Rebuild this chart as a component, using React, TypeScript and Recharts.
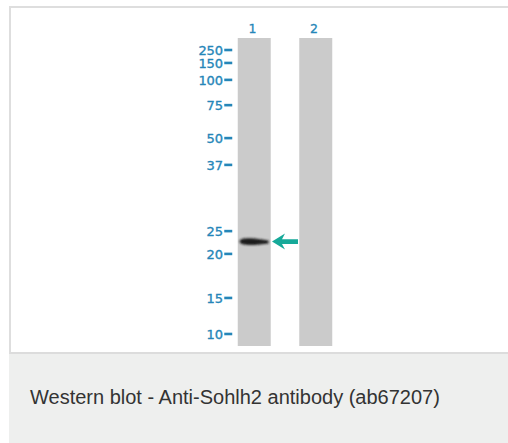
import React from 'react';
import { ComposedChart, Bar, Scatter, XAxis, YAxis } from 'recharts';

// Lanes of the blot
const lanes = ['1', '2'];
const laneLength = [100, 100]; // full lane (percent of run length)

// Molecular weight marker ladder (kDa) and their migration (percent of lane length)
const markerKDa = [250, 150, 100, 75, 50, 37, 25, 20, 15, 10];
const markerMigration = [3.9, 8.1, 13.6, 21.8, 32.5, 41.2, 62.7, 70.1, 84.4, 96.1];

// Detected band (lane 1, ~22 kDa)
const bandLane = ['1'];
const bandMigration = [66.1];

const BLUE = '#2586b8';
const TEAL = '#16a999';
const LANE_GREY = '#cbcbcb';

const chartData = lanes.map((lane, i) => {
  const bi = bandLane.indexOf(lane);
  return {
    lane,
    length: laneLength[i],
    band: bi >= 0 ? bandMigration[bi] : null,
  };
});

const kdaOf = (m: number) => {
  const i = markerMigration.indexOf(m);
  return i >= 0 ? String(markerKDa[i]) : '';
};

const MarkerTick = (props: any) => {
  const { x, y, payload } = props;
  return (
    <g>
      <line x1={x + 0.5} x2={x + 8.5} y1={y} y2={y} stroke={BLUE} strokeWidth={2.6} />
      <text
        x={x - 1}
        y={y}
        dy={4.7}
        textAnchor="end"
        fill={BLUE}
        stroke={BLUE}
        strokeWidth={0.35}
        fontSize={13}
        fontFamily="DejaVu Sans"
        letterSpacing={-0.2}
      >
        {kdaOf(payload.value)}
      </text>
    </g>
  );
};

const LaneTick = (props: any) => {
  const { x, y, payload } = props;
  return (
    <text
      x={x - 2}
      y={y}
      textAnchor="middle"
      fill={BLUE}
      stroke={BLUE}
      strokeWidth={0.3}
      fontSize={12.5}
      fontFamily="DejaVu Sans"
    >
      {payload.value}
    </text>
  );
};

const BandShape = (props: any) => {
  const { cx, cy } = props;
  if (cx == null || cy == null || isNaN(cx) || isNaN(cy)) return null;
  const d = `M ${cx - 15} ${cy}
    C ${cx - 15} ${cy - 3.6} ${cx - 7} ${cy - 3.6} ${cx} ${cy - 3}
    L ${cx + 14} ${cy - 1.2} L ${cx + 14} ${cy + 1.8}
    L ${cx} ${cy + 3.3}
    C ${cx - 7} ${cy + 3.9} ${cx - 15} ${cy + 3} ${cx - 15} ${cy} Z`;
  return (
    <g>
      <defs>
        <filter id="bandBlur" x="-20%" y="-100%" width="140%" height="300%">
          <feGaussianBlur stdDeviation="1" />
        </filter>
      </defs>
      <path d={d} fill="#1a1a1a" filter="url(#bandBlur)" />
    </g>
  );
};

const ArrowShape = (props: any) => {
  const { cx, cy } = props;
  if (cx == null || cy == null || isNaN(cx) || isNaN(cy)) return null;
  const tip = cx + 17.5;
  const d = `M ${tip} ${cy}
    L ${tip + 13} ${cy - 8}
    L ${tip + 10} ${cy - 2.3}
    L ${tip + 26} ${cy - 2.3}
    L ${tip + 26} ${cy + 2.3}
    L ${tip + 10} ${cy + 2.3}
    L ${tip + 13} ${cy + 8} Z`;
  return <path d={d} fill={TEAL} />;
};

export default function App() {
  return (
    <div
      style={{
        position: 'absolute',
        left: 0,
        top: 0,
        width: 508,
        height: 443,
        background: '#ffffff',
        overflow: 'hidden',
      }}
    >
      <div
        style={{
          position: 'absolute',
          left: 9,
          top: 6,
          width: 499,
          height: 348,
          boxSizing: 'border-box',
          borderLeft: '2px solid #dedede',
          borderTop: '2px solid #dedede',
          borderBottom: '2px solid #dcdcdc',
          background: '#ffffff',
        }}
      />
      <div style={{ position: 'absolute', left: 0, top: 0 }}>
        <ComposedChart
          width={508}
          height={352}
          data={chartData}
          margin={{ top: 0, right: 161.25, bottom: 6, left: 0 }}
        >
          <XAxis
            dataKey="lane"
            type="category"
            orientation="top"
            xAxisId={0}
            height={38}
            tickLine={false}
            axisLine={false}
            tickSize={0}
            tickMargin={5}
            tick={<LaneTick />}
            interval={0}
          />
          <YAxis
            type="number"
            yAxisId={0}
            width={223.75}
            domain={[0, 100]}
            reversed
            ticks={markerMigration}
            interval={0}
            tickLine={false}
            axisLine={false}
            tickSize={0}
            tickMargin={0}
            tick={<MarkerTick />}
          />
          <Bar dataKey="length" fill={LANE_GREY} barSize={33} isAnimationActive={false} />
          <Scatter dataKey="band" shape={<BandShape />} isAnimationActive={false} />
          <Scatter dataKey="band" shape={<ArrowShape />} isAnimationActive={false} />
        </ComposedChart>
      </div>
      <div
        style={{
          position: 'absolute',
          left: 9,
          top: 354,
          width: 499,
          height: 89,
          background: '#eeefee',
        }}
      >
        <div
          style={{
            position: 'absolute',
            left: 21,
            top: 32,
            fontFamily: '"Liberation Sans", Arial, sans-serif',
            fontSize: 20,
            lineHeight: '22px',
            color: '#333333',
            whiteSpace: 'nowrap',
          }}
        >
          Western blot - Anti-Sohlh2 antibody (ab67207)
        </div>
      </div>
    </div>
  );
}
